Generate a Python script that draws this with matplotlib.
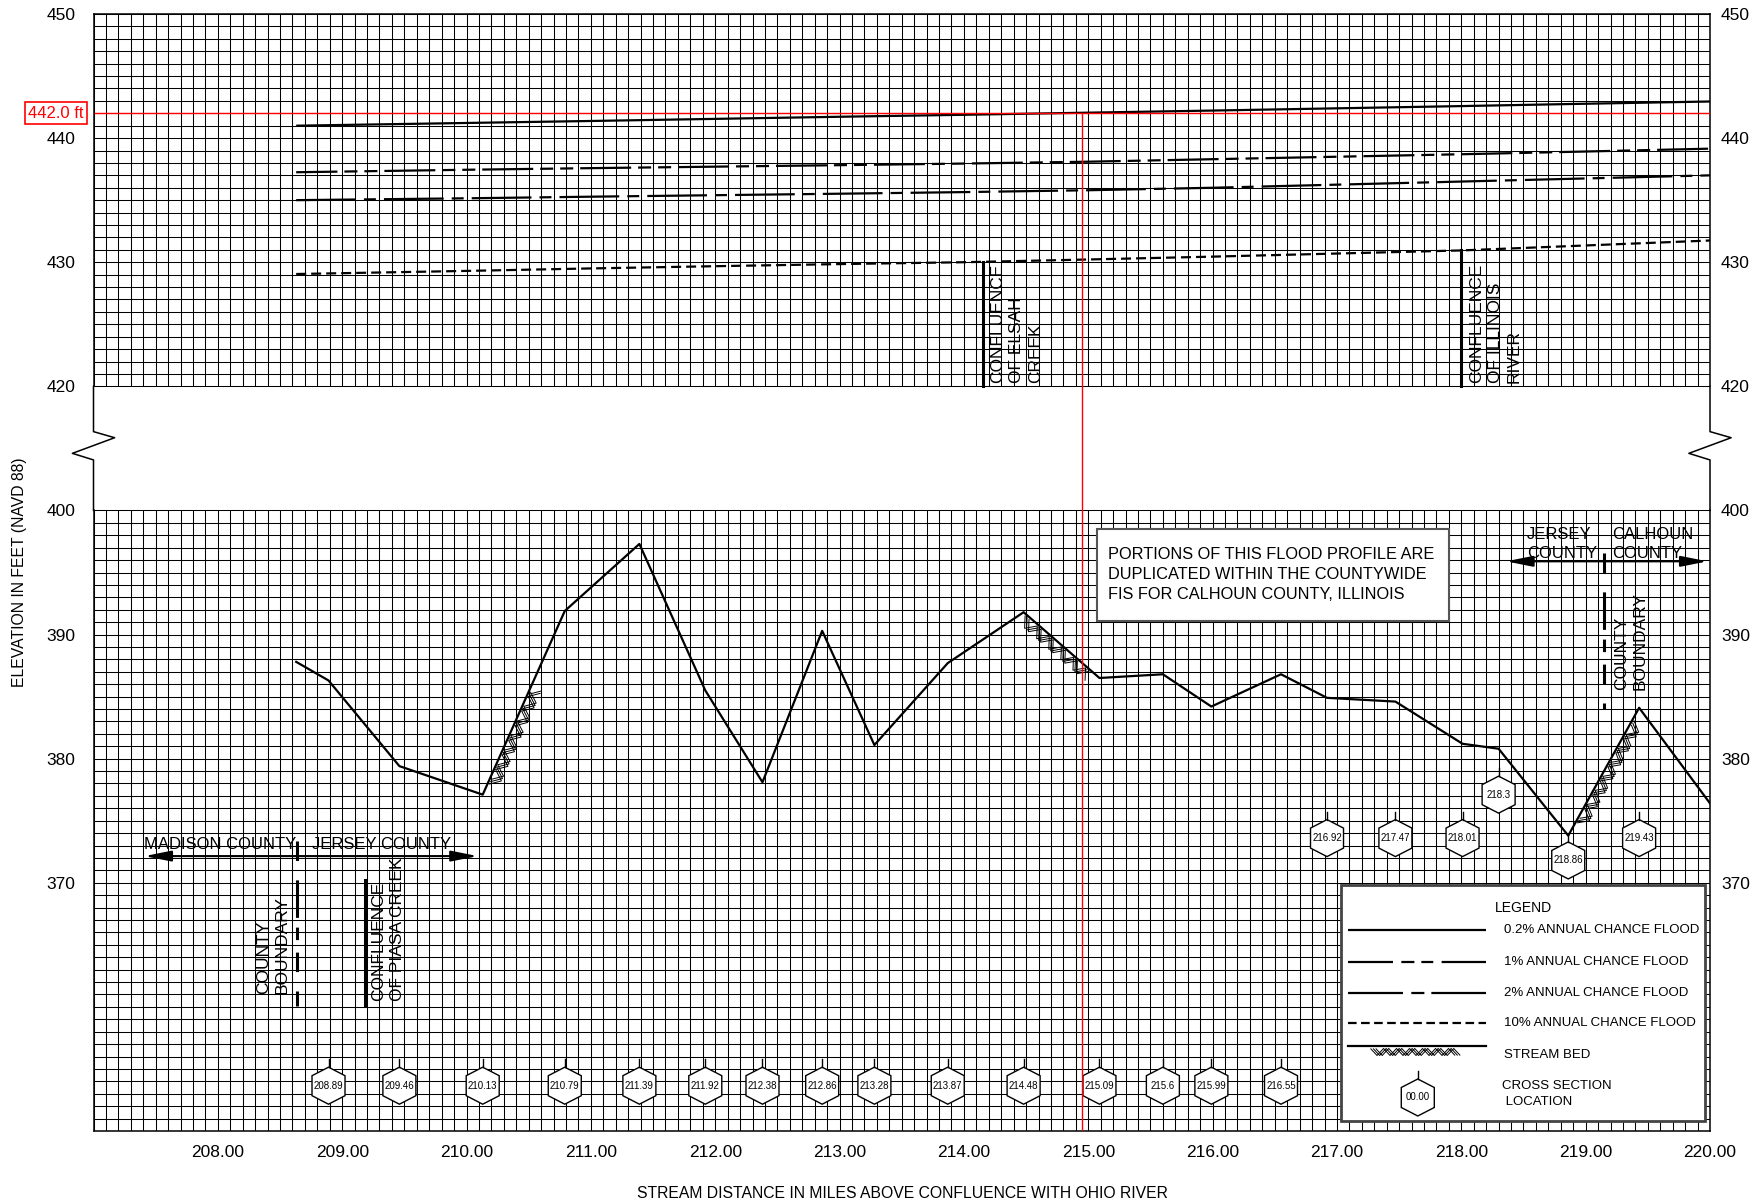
import numpy as np
import matplotlib
matplotlib.use("Agg")
import matplotlib.pyplot as plt
from matplotlib.patches import Polygon, Rectangle, FancyArrowPatch
from matplotlib.collections import LineCollection
from matplotlib.transforms import blended_transform_factory

plt.rcParams['font.family'] = ['Liberation Sans', 'DejaVu Sans']
plt.rcParams['lines.scale_dashes'] = False

# ---------------- data ----------------
profile_x = [208.63, 210.0, 211.0, 212.0, 213.0, 214.0, 215.0, 216.0, 217.0, 218.0, 219.0, 220.0]
flood_02 = [441.0, 441.22, 441.38, 441.55, 441.72, 441.88, 442.05, 442.22, 442.4, 442.58, 442.77, 442.95]
flood_1 = [437.25, 437.45, 437.58, 437.7, 437.82, 437.95, 438.1, 438.3, 438.5, 438.7, 438.92, 439.15]
flood_2 = [435.0, 435.15, 435.28, 435.4, 435.52, 435.65, 435.8, 436.0, 436.25, 436.5, 436.75, 437.0]
flood_10 = [429.05, 429.3, 429.5, 429.68, 429.85, 430.0, 430.22, 430.45, 430.7, 430.95, 431.35, 431.75]

bed_x = [208.63, 208.89, 209.46, 210.13, 210.79, 211.39, 211.92, 212.38, 212.86, 213.28, 213.87,
         214.48, 215.09, 215.6, 215.99, 216.55, 216.92, 217.47, 218.01, 218.3, 218.86, 219.43, 220.0]
bed_elev = [387.8, 386.3, 379.4, 377.1, 391.9, 397.3, 385.5, 378.1, 390.3, 381.1, 387.7,
            391.8, 386.5, 386.8, 384.2, 386.8, 384.9, 384.6, 381.2, 380.8, 373.8, 384.1, 376.4]

bed_hatch_ranges = [(210.17, 210.52), (214.50, 215.05), (218.92, 219.38)]

xs_labels = ["208.89", "209.46", "210.13", "210.79", "211.39", "211.92", "212.38", "212.86",
             "213.28", "213.87", "214.48", "215.09", "215.6", "215.99", "216.55",
             "216.92", "217.47", "218.01", "218.3", "218.86", "219.43"]
xs_x = [208.89, 209.46, 210.13, 210.79, 211.39, 211.92, 212.38, 212.86, 213.28, 213.87,
        214.48, 215.09, 215.6, 215.99, 216.55, 216.92, 217.47, 218.01, 218.3, 218.86, 219.43]
xs_elev = [353.65] * 15 + [373.6, 373.6, 373.6, 377.1, 371.8, 373.6]

x_ticks = [208, 209, 210, 211, 212, 213, 214, 215, 216, 217, 218, 219, 220]
y_ticks_elev = [450, 440, 430, 420, 400, 390, 380, 370]

marker_elev = 442.0
marker_x = 214.95

# ---------------- helpers ----------------
X0, X1 = 207.0, 220.0


def D(e):
    """Map elevation to display coordinate (axis break 400-420 shown as 10 ft gap)."""
    e = np.asarray(e, dtype=float)
    return np.where(e >= 420, e - 10.0, e)


W, H = 1750, 1204
AX_L, AX_R, AX_T, AX_B = 93.5, 1710.0, 14.0, 1131.0
fig = plt.figure(figsize=(W / 100, H / 100), dpi=100)
fig.patch.set_facecolor("white")
ax = fig.add_axes([AX_L / W, 1 - AX_B / H, (AX_R - AX_L) / W, (AX_B - AX_T) / H])
ax.set_xlim(X0, X1)
ax.set_ylim(350, 440)
for s in ax.spines.values():
    s.set_visible(False)

PXX = (AX_R - AX_L) / (X1 - X0)
PXY = (AX_B - AX_T) / 90.0

# grid
vx = np.round(np.arange(X0, X1 + 0.001, 0.1), 2)
ax.vlines(vx, 410, 440, color="black", lw=0.75, zorder=1)
ax.vlines(vx, 350, 400, color="black", lw=0.75, zorder=1)
ax.hlines(np.arange(410, 441), X0, X1, color="black", lw=0.75, zorder=1)
ax.hlines(np.arange(350, 401), X0, X1, color="black", lw=0.75, zorder=1)

# frame with break zigzags
for xe in (X0, X1):
    ax.plot([xe, xe, xe + 0.17, xe - 0.17, xe, xe], [410, 406.35, 405.86, 404.6, 404.07, 400],
            color="black", lw=1.1, clip_on=False, zorder=2)
    ax.plot([xe, xe], [410, 440], color="black", lw=1.1, zorder=2, clip_on=False)
    ax.plot([xe, xe], [350, 400], color="black", lw=1.1, zorder=2, clip_on=False)
ax.plot([X0, X1], [440, 440], color="black", lw=1.1, zorder=2, clip_on=False)
ax.plot([X0, X1], [350, 350], color="black", lw=1.1, zorder=2, clip_on=False)

# flood profiles
LW = 1.6
ax.plot(profile_x, D(flood_02), color="black", lw=LW, zorder=4, solid_capstyle="butt")
ax.plot(profile_x, D(flood_1), color="black", lw=LW, zorder=4,
        linestyle=(7, (36.7, 5, 9.4, 5, 9.4, 5)), dash_capstyle="butt")
ax.plot(profile_x, D(flood_2), color="black", lw=LW, zorder=4,
        linestyle=(0, (43, 5.8, 8.6, 5.8)), dash_capstyle="butt")
ax.plot(profile_x, D(flood_10), color="black", lw=LW, zorder=4,
        linestyle=(0, (7.2, 3.6)), dash_capstyle="butt")

# stream bed
ax.plot(bed_x, D(bed_elev), color="black", lw=LW, zorder=4)


def hatch(p0d, p1d, period=16.0, depth=10.0, copies=3, shift=2.6, gap=1.5, lw=0.7, zorder=4):
    p0, p1 = ax.transData.transform([p0d, p1d])
    v = p1 - p0
    L = np.hypot(*v)
    u = v / L
    n = np.array([u[1], -u[0]])
    if n[1] > 0:
        n = -n
    nseg = int(L // (period / 2))
    segs = []
    for c in range(copies):
        pts = []
        for k in range(nseg + 1):
            t = k * period / 2 + c * shift
            if t > L:
                break
            off = gap + (depth if k % 2 else 0.0)
            pts.append(p0 + u * t + n * off)
        if len(pts) > 1:
            segs.append(ax.transData.inverted().transform(np.array(pts)))
    ax.add_collection(LineCollection(segs, colors="black", linewidths=lw, zorder=zorder))


for xa, xb in bed_hatch_ranges:
    ya, yb = np.interp([xa, xb], bed_x, bed_elev)
    hatch((xa, float(D(ya))), (xb, float(D(yb))))

# confluence / boundary lines
for xc in (214.15, 218.0):
    top = float(D(np.interp(xc, profile_x, flood_10)))
    ax.plot([xc, xc], [410, top], color="black", lw=2.2, zorder=3)
ax.plot([209.18, 209.18], [360.1, 370.2], color="black", lw=2.2, zorder=3)
bdash = (0, (14, 14, 27, 7, 9, 9))
ax.plot([208.635, 208.635], [373.4, 360.1], color="black", lw=2.2, zorder=3,
        linestyle=bdash, dash_capstyle="butt")
ax.plot([219.146, 219.146], [396.6, 384.0], color="black", lw=2.2, zorder=3,
        linestyle=bdash, dash_capstyle="butt")

FS = 12
RFS = 12.5
RLS = 1.32
ax.text(214.21, 410.25, "CONFLUENCE\nOF ELSAH\nCREEK", rotation=90, ha="left", va="bottom",
        fontsize=RFS, linespacing=RLS, zorder=5)
ax.text(218.06, 410.25, "CONFLUENCE\nOF ILLINOIS\nRIVER", rotation=90, ha="left", va="bottom",
        fontsize=RFS, linespacing=RLS, zorder=5)
ax.text(209.23, 360.5, "CONFLUENCE\nOF PIASA CREEK", rotation=90, ha="left", va="bottom",
        fontsize=RFS, linespacing=RLS, zorder=5)
ax.text(208.58, 361.0, "COUNTY\nBOUNDARY", rotation=90, ha="right", va="bottom",
        multialignment="left", fontsize=RFS, linespacing=RLS, zorder=5)
ax.text(219.23, 385.5, "COUNTY\nBOUNDARY", rotation=90, ha="left", va="bottom",
        multialignment="left", fontsize=RFS, linespacing=RLS, zorder=5)

# county arrows
for (xa, xb, y) in [(207.41, 210.09, 372.15), (218.36, 219.98, 395.9)]:
    arr = FancyArrowPatch((xa, y), (xb, y), arrowstyle="<|-|>,head_length=1.6,head_width=0.32",
                          mutation_scale=10, lw=1.5, color="black", zorder=5, shrinkA=0, shrinkB=0)
    ax.add_patch(arr)
ax.text(207.41, 372.75, "MADISON COUNTY", ha="left", va="baseline", fontsize=FS, zorder=5)
ax.text(208.76, 372.75, "JERSEY COUNTY", ha="left", va="baseline", fontsize=FS, zorder=5)
ax.text(219.09, 395.95, "JERSEY\nCOUNTY", ha="right", va="bottom", multialignment="left",
        fontsize=FS, linespacing=1.35, zorder=5)
ax.text(219.21, 395.95, "CALHOUN\nCOUNTY", ha="left", va="bottom", multialignment="left",
        fontsize=FS, linespacing=1.35, zorder=5)

# note box
ax.add_patch(Rectangle((215.07, 391.1), 2.83, 7.4, facecolor="white", edgecolor="#555555",
                       lw=1.5, zorder=6))
ax.text(215.16, 394.85, "PORTIONS OF THIS FLOOD PROFILE ARE\nDUPLICATED WITHIN THE COUNTYWIDE\n"
        "FIS FOR CALHOUN COUNTY, ILLINOIS", ha="left", va="center", fontsize=11.8,
        linespacing=1.42, zorder=7)


def hexagon(x, e, label, zorder=6, fs=7):
    hw = 16.5 / PXX
    hh = 18.5 / PXY
    hs = 10.0 / PXY
    pts = [(x, e + hh), (x + hw, e + hs), (x + hw, e - hs), (x, e - hh), (x - hw, e - hs), (x - hw, e + hs)]
    ax.add_patch(Polygon(pts, closed=True, facecolor="white", edgecolor="black", lw=1.0, zorder=zorder))
    ax.plot([x, x], [e + hh, e + hh + 8.0 / PXY], color="black", lw=1.0, zorder=zorder)
    ax.text(x, e, label, ha="center", va="center", fontsize=fs, zorder=zorder + 1)


for lab, x, e in zip(xs_labels, xs_x, xs_elev):
    hexagon(x, e, lab)

# legend
ax.add_patch(Rectangle((217.03, 350.8), 2.93, 19.0, facecolor="white", edgecolor="#444444",
                       lw=2.0, zorder=8))
LFS = 9.5
ax.text(218.27, 368.0, "LEGEND", ha="left", va="center", fontsize=10, zorder=9)
lx0, lx1, ltx = 217.09, 218.2, 218.34
leg_items = [
    (366.2, "0.2% ANNUAL CHANCE FLOOD", "solid"),
    (363.6, "1% ANNUAL CHANCE FLOOD", (0, (32.4, 6, 9.4, 5, 8.6, 6, 40))),
    (361.1, "2% ANNUAL CHANCE FLOOD", (0, (39.6, 6, 9.4, 5, 45))),
    (358.7, "10% ANNUAL CHANCE FLOOD", (0, (6.2, 3.2))),
]
for y, lab, ls in leg_items:
    ax.plot([lx0, lx1], [y, y], color="black", lw=LW, linestyle=ls, zorder=9,
            dash_capstyle="butt", solid_capstyle="butt")
    ax.text(ltx, y, lab, ha="left", va="center", fontsize=LFS, zorder=9)
ax.plot([lx0, lx1], [356.85, 356.85], color="black", lw=LW, zorder=9)
hatch((217.27, 356.85), (218.0, 356.85), period=13, depth=7, gap=2.5, zorder=9)
ax.text(ltx, 356.1, "STREAM BED", ha="left", va="center", fontsize=LFS, zorder=9)
hexagon(217.65, 352.7, "00.00", zorder=9)
ax.text(ltx - 0.01, 353.0, "CROSS SECTION\n LOCATION", ha="left", va="center", fontsize=LFS,
        linespacing=1.5, zorder=9)

# red marker lines
ax.hlines(float(D(marker_elev)), X0, X1, color="red", lw=1.0, zorder=7)
ax.vlines(marker_x, 350, float(D(marker_elev)), color="red", lw=1.0, zorder=7)
trans = blended_transform_factory(fig.transFigure, ax.transData)
ax.text(56 / W, float(D(marker_elev)), f"{marker_elev:.1f} ft", transform=trans, color="red",
        ha="center", va="center", fontsize=12,
        bbox=dict(boxstyle="square,pad=0.2", facecolor="white", edgecolor="red", lw=1.2))

# ticks
ax.set_xticks(x_ticks)
ax.set_xticklabels([f"{v:.2f}" for v in x_ticks])
ax.set_yticks(D(y_ticks_elev))
ax.set_yticklabels([str(v) for v in y_ticks_elev])
ax.tick_params(axis="both", length=0, labelsize=12.5)
ax.tick_params(axis="y", pad=13)
ax.tick_params(axis="x", pad=10)

ax2 = ax.twinx()
ax2.set_ylim(ax.get_ylim())
ax2.set_yticks(D(y_ticks_elev))
ax2.set_yticklabels([str(v) for v in y_ticks_elev])
ax2.tick_params(axis="y", length=0, labelsize=12.5, pad=8)
for s in ax2.spines.values():
    s.set_visible(False)

fig.text(20 / W, 1 - 572.5 / H, "ELEVATION IN FEET (NAVD 88)", rotation=90, ha="center", va="center",
         fontsize=11.3)
fig.text(902 / W, 1 - 1194 / H, "STREAM DISTANCE IN MILES ABOVE CONFLUENCE WITH OHIO RIVER",
         ha="center", va="center", fontsize=11.3)

fig.savefig("out.png", dpi=100)
